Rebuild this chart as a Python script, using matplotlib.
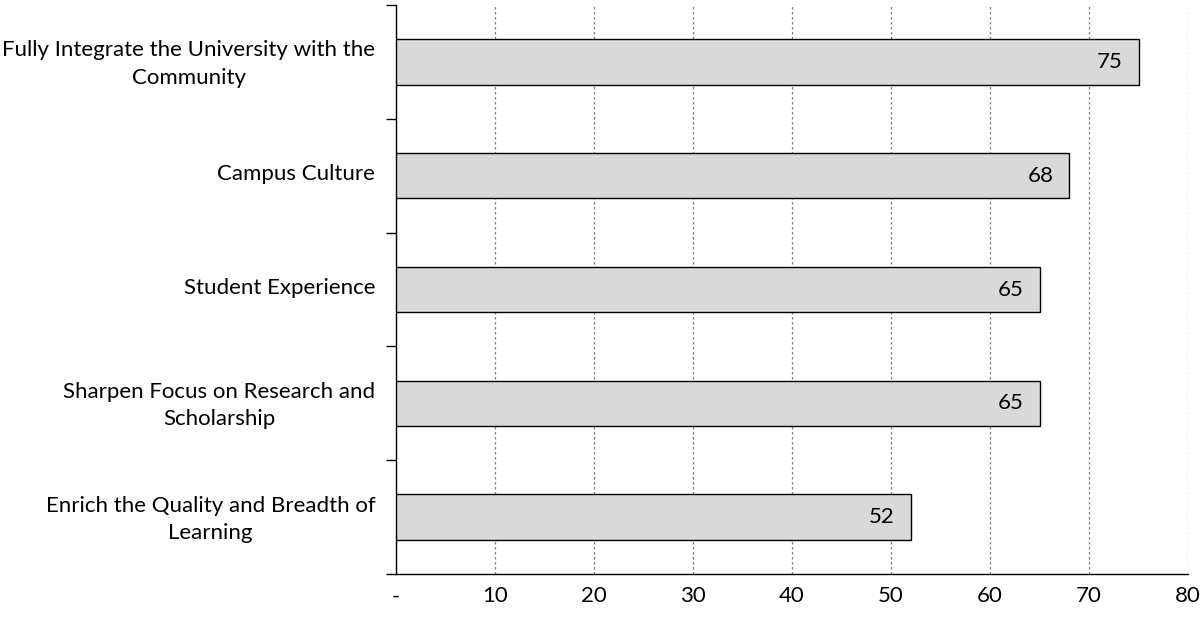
import numpy as np
import matplotlib.pyplot as plt

# strategic goals and their scores
goals = [
    "Fully Integrate the University with the\nCommunity",
    "Campus Culture",
    "Student Experience",
    "Sharpen Focus on Research and\nScholarship",
    "Enrich the Quality and Breadth of\nLearning",
]
scores = [75, 68, 65, 65, 52]
x_ticks = [0, 10, 20, 30, 40, 50, 60, 70, 80]
x_tick_labels = ["-", "10", "20", "30", "40", "50", "60", "70", "80"]

plt.rcParams["font.family"] = ["Lato", "DejaVu Sans"]

fig = plt.figure(figsize=(12, 6.18), dpi=100)
ax = fig.add_axes([0.33, 0.0712, 0.66, 0.9207])

# top goal first
pos = np.arange(len(goals))[::-1]
ax.barh(pos, scores, height=0.4, color="#D9D9D9", edgecolor="black",
        linewidth=1.0, zorder=3)

for p, s in zip(pos, scores):
    ax.text(s - 1.6, p, str(s), ha="right", va="center", fontsize=16,
            color="black", zorder=4)

ax.set_xlim(0, 80)
ax.set_ylim(-0.5, len(goals) - 0.5)

ax.set_xticks(x_ticks)
ax.set_xticklabels(x_tick_labels, fontsize=16)
ax.tick_params(axis="x", length=0, pad=9)

# category labels centred, boundary ticks between them
ax.set_yticks(pos + 0.03)
ax.set_yticklabels(goals, fontsize=16, multialignment="center",
                   linespacing=1.45)
ax.tick_params(axis="y", which="major", length=0, pad=15)
ax.set_yticks(np.arange(-0.5, len(goals), 1.0), minor=True)
ax.tick_params(axis="y", which="minor", length=7.5, width=1.0,
               direction="out", color="black")

ax.grid(axis="x", color="#808080", linestyle=(0, (2, 2)), linewidth=0.9,
        zorder=0)
ax.grid(axis="y", visible=False)

for side in ["top", "right"]:
    ax.spines[side].set_visible(False)
for side in ["left", "bottom"]:
    ax.spines[side].set_color("black")
    ax.spines[side].set_linewidth(1.0)

fig.savefig("out.png", dpi=100)
